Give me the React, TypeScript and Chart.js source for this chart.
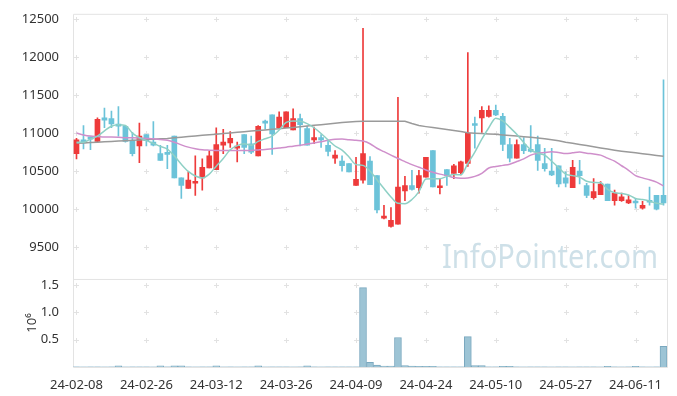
import React, { useEffect, useRef } from 'react';
import { Chart, registerables } from 'chart.js';

Chart.register(...registerables);

const dates = [
  '24-02-08','24-02-13','24-02-14','24-02-15','24-02-16','24-02-19','24-02-20','24-02-21','24-02-22','24-02-23',
  '24-02-26','24-02-27','24-02-28','24-02-29','24-03-04','24-03-05','24-03-06','24-03-07','24-03-08','24-03-11',
  '24-03-12','24-03-13','24-03-14','24-03-15','24-03-18','24-03-19','24-03-20','24-03-21','24-03-22','24-03-25',
  '24-03-26','24-03-27','24-03-28','24-03-29','24-04-01','24-04-02','24-04-03','24-04-04','24-04-05','24-04-08',
  '24-04-09','24-04-11','24-04-12','24-04-15','24-04-16','24-04-17','24-04-18','24-04-19','24-04-22','24-04-23',
  '24-04-24','24-04-25','24-04-26','24-04-29','24-04-30','24-05-02','24-05-03','24-05-07','24-05-08','24-05-09',
  '24-05-10','24-05-13','24-05-14','24-05-16','24-05-17','24-05-20','24-05-21','24-05-22','24-05-23','24-05-24',
  '24-05-27','24-05-28','24-05-29','24-05-30','24-05-31','24-06-03','24-06-04','24-06-05','24-06-07','24-06-10',
  '24-06-11','24-06-12','24-06-13','24-06-14','24-06-17',
];

const openP = [
  10730, 10910, 10950, 10890, 11200, 11190, 11120, 11090, 10900, 10830,
  10980, 10880, 10730, 10740, 10960, 10410, 10270, 10340, 10410, 10540,
  10520, 10840, 10870, 10800, 10980, 10860, 10700, 11150, 11240, 11070,
  11070, 11040, 11190, 11060, 10910, 10940, 10840, 10670, 10630, 10600,
  10310, 10380, 10630, 10440, 9880, 9770, 9800, 10240, 10310, 10280,
  10420, 10770, 10280, 10520, 10470, 10480, 10600, 11110, 11200, 11220,
  11300, 11220, 10850, 10670, 10850, 10780, 10850, 10600, 10500, 10570,
  10410, 10280, 10500, 10310, 10150, 10190, 10330, 10110, 10110, 10080,
  10090, 10010, 10100, 10180, 10180,
];
const highP = [
  10930, 11100, 10950, 11200, 11330, 11290, 11350, 11090, 11010, 11130,
  10980, 11150, 10840, 10840, 10960, 10410, 10490, 10700, 10660, 10760,
  11070, 11050, 11020, 10880, 10980, 10960, 11100, 11170, 11240, 11280,
  11280, 11320, 11250, 11090, 11080, 10980, 10890, 10770, 10700, 10600,
  10680, 12380, 10690, 10440, 10050, 10020, 11470, 10430, 10510, 10510,
  10680, 10770, 10400, 10520, 10590, 10630, 12060, 11210, 11350, 11360,
  11370, 11260, 10930, 10910, 10940, 11100, 10960, 10800, 10800, 10570,
  10490, 10640, 10640, 10340, 10400, 10360, 10330, 10250, 10210, 10180,
  10140, 10100, 10290, 10180, 11700,
];
const lowP = [
  10660, 10790, 10780, 10880, 11070, 11070, 10960, 10880, 10700, 10610,
  10830, 10830, 10640, 10530, 10410, 10140, 10270, 10180, 10250, 10540,
  10520, 10730, 10810, 10620, 10730, 10730, 10700, 11050, 10720, 11070,
  11070, 11040, 10830, 10840, 10860, 10810, 10700, 10600, 10500, 10490,
  10310, 10340, 10320, 9950, 9870, 9760, 9800, 10110, 10250, 10210,
  10420, 10290, 10200, 10310, 10400, 10450, 10560, 10800, 11010, 11210,
  11230, 10770, 10620, 10670, 10730, 10750, 10510, 10500, 10440, 10290,
  10290, 10280, 10330, 10150, 10130, 10190, 10110, 10050, 10100, 10070,
  10010, 10000, 10050, 9990, 10050,
];
const closeP = [
  10910, 10870, 10920, 11180, 11170, 11120, 11090, 10890, 10730, 10960,
  10900, 10840, 10640, 10720, 10410, 10310, 10380, 10360, 10550, 10700,
  10850, 10880, 10930, 10830, 10810, 10750, 11090, 11130, 10990, 11210,
  11280, 11190, 11110, 10840, 10940, 10910, 10760, 10710, 10570, 10490,
  10390, 10730, 10320, 9990, 9900, 9850, 10290, 10310, 10260, 10440,
  10680, 10290, 10300, 10440, 10570, 10620, 11000, 11100, 11300, 11300,
  11240, 10850, 10670, 10850, 10770, 10760, 10640, 10530, 10450, 10330,
  10340, 10550, 10440, 10180, 10230, 10330, 10110, 10210, 10160, 10120,
  10080, 10050, 10090, 10000, 10080,
];

const ma5 = [
  10880, 10880, 10920, 10960, 11030, 11090, 11110, 11100, 11000, 10940,
  10900, 10865, 10825, 10790, 10700, 10590, 10495, 10435, 10410, 10460,
  10565, 10665, 10780, 10835, 10860, 10840, 10890, 10925, 10960, 11040,
  11140, 11160, 11155, 11125, 11070, 10995, 10910, 10830, 10775, 10685,
  10585, 10575, 10500, 10385, 10270, 10160, 10075, 10070, 10125, 10230,
  10395, 10400, 10400, 10430, 10455, 10450, 10600, 10750, 10920, 11070,
  11195, 11160, 11075, 10985, 10875, 10780, 10735, 10710, 10630, 10545,
  10460, 10440, 10420, 10365, 10350, 10345, 10260, 10215, 10205, 10185,
  10140, 10125, 10105, 10075, 10065,
];
const ma20 = [
  11000, 10975, 10960, 10955, 10950, 10948, 10945, 10940, 10938, 10935,
  10930, 10925, 10915, 10905, 10880, 10845, 10815, 10795, 10780, 10775,
  10772, 10770, 10770, 10770, 10770, 10772, 10778, 10785, 10795, 10805,
  10815, 10828, 10840, 10855, 10870, 10885, 10905, 10920, 10922, 10912,
  10905, 10895, 10860, 10800, 10755, 10710, 10665, 10625, 10585, 10550,
  10515, 10485, 10460, 10440, 10415, 10405, 10410, 10430, 10470, 10540,
  10560, 10575, 10590, 10625, 10660, 10710, 10735, 10745, 10755, 10745,
  10730, 10740, 10750, 10735, 10725, 10710, 10670, 10630, 10570, 10510,
  10440, 10410, 10385, 10355, 10305,
];
const ma60 = [
  10865, 10870, 10875, 10880, 10885, 10890, 10895, 10900, 10905, 10910,
  10915, 10920, 10925, 10930, 10938, 10946, 10954, 10962, 10970, 10978,
  10986, 10994, 11002, 11010, 11018, 11026, 11034, 11042, 11050, 11058,
  11066, 11075, 11084, 11093, 11102, 11111, 11120, 11129, 11138, 11147,
  11152, 11156, 11157, 11157, 11157, 11157, 11157, 11155, 11125, 11100,
  11085, 11072, 11060, 11048, 11035, 11020, 11005, 10998, 10993, 10988,
  10983, 10976, 10968, 10960, 10952, 10944, 10936, 10925, 10912, 10898,
  10880, 10865, 10850, 10835, 10820, 10805, 10790, 10775, 10762, 10750,
  10740, 10728, 10717, 10706, 10695,
];

const volume = [
  2000, 1500, 2500, 2000, 1500, 2000, 20000, 1500, 2000, 2500,
  2000, 1500, 20000, 2000, 20000, 20000, 2000, 1500, 2000, 2000,
  20000, 1500, 2000, 1500, 2000, 2000, 20000, 1500, 2000, 2500,
  2000, 1500, 2000, 20000, 2000, 1500, 2000, 2500, 2000, 2000,
  2500, 1450000, 85000, 35000, 18000, 18000, 540000, 25000, 15000, 14000,
  14000, 14000, 2000, 2500, 2000, 2000, 555000, 28000, 28000, 2500,
  2000, 14000, 14000, 2000, 1500, 2000, 2500, 2000, 1500, 2000,
  2000, 1500, 2000, 2500, 2000, 1500, 14000, 2000, 1500, 2000,
  14000, 2000, 1500, 2500, 380000,
];

const priceTicks = [9500, 10000, 10500, 11000, 11500, 12000, 12500];
const volumeTicks = [500000, 1000000, 1500000];

const RED = '#ee3b3b';
const BLUE = '#6cc3d9';
const FONT = '"Noto Sans", sans-serif';

const decor = {
  id: 'decor',
  beforeDatasetsDraw(chart: any) {
    const { ctx, chartArea: a, scales } = chart;
    const xs = scales.x, ys = scales.y, yv = scales.yv;
    ctx.save();
    ctx.font = '33px ' + FONT;
    ctx.fillStyle = 'rgba(165,198,214,0.55)';
    ctx.textAlign = 'right';
    ctx.textBaseline = 'alphabetic';
    ctx.fillText('InfoPointer.com', a.right - 9, ys.bottom - 11, 216);
    ctx.strokeStyle = '#e2e2e2';
    ctx.lineWidth = 1;
    const xPix: number[] = [];
    dates.forEach((_, i) => { if (i % 10 === 0) xPix.push(Math.round(xs.getPixelForValue(i)) + 0.5); });
    const yPix: number[] = [];
    priceTicks.forEach((v) => yPix.push(Math.round(ys.getPixelForValue(v)) + 0.5));
    volumeTicks.forEach((v) => yPix.push(Math.round(yv.getPixelForValue(v)) + 0.5));
    ctx.beginPath();
    for (const x of xPix) {
      for (const y of yPix) {
        ctx.moveTo(x - 2.5, y); ctx.lineTo(x + 2.5, y);
        ctx.moveTo(x, y - 2.5); ctx.lineTo(x, y + 2.5);
      }
    }
    ctx.stroke();
    ctx.strokeStyle = '#e3e3e3';
    ctx.beginPath();
    ctx.moveTo(a.left + 0.5, a.top + 0.5);
    ctx.lineTo(a.right + 0.5, a.top + 0.5);
    ctx.lineTo(a.right + 0.5, a.bottom + 0.5);
    ctx.lineTo(a.left + 0.5, a.bottom + 0.5);
    ctx.closePath();
    ctx.moveTo(a.left, ys.bottom + 0.5);
    ctx.lineTo(a.right, ys.bottom + 0.5);
    ctx.stroke();
    ctx.restore();
  },
};

export default function App() {
  const ref = useRef<HTMLCanvasElement>(null);
  useEffect(() => {
    document.body.style.margin = '0';
    if (!ref.current) return;
    const colors = dates.map((_, i) => (closeP[i] >= openP[i] ? RED : BLUE));
    const tickFont = { family: FONT, size: 13 };
    const chart = new Chart(ref.current, {
      type: 'bar',
      data: {
        labels: dates,
        datasets: [
          { type: 'line', label: 'MA5', data: ma5, yAxisID: 'y', borderColor: '#8ed0c5', borderWidth: 1.5, pointRadius: 0, cubicInterpolationMode: 'monotone' } as any,
          { type: 'line', label: 'MA20', data: ma20, yAxisID: 'y', borderColor: '#cf8fcb', borderWidth: 1.5, pointRadius: 0, cubicInterpolationMode: 'monotone' } as any,
          { type: 'line', label: 'MA60', data: ma60, yAxisID: 'y', borderColor: '#9a9a9a', borderWidth: 1.5, pointRadius: 0, tension: 0 } as any,
          { type: 'bar', label: 'wick', data: dates.map((_, i) => [lowP[i], highP[i]]), yAxisID: 'y', backgroundColor: colors, barThickness: 1, grouped: false } as any,
          { type: 'bar', label: 'body', data: dates.map((_, i) => [openP[i], closeP[i]]), yAxisID: 'y', backgroundColor: colors, barThickness: 5, grouped: false, minBarLength: 2 } as any,
          { type: 'bar', label: 'volume', data: volume, yAxisID: 'yv', backgroundColor: '#9dc4d5', borderColor: '#7aa8bf', borderWidth: 1, barPercentage: 1, categoryPercentage: 1, grouped: false } as any,
        ],
      },
      options: {
        responsive: false,
        animation: false,
        events: [],
        layout: { padding: { top: 10, right: 10, left: 0, bottom: 0 } },
        plugins: { legend: { display: false }, tooltip: { enabled: false } },
        scales: {
          x: {
            type: 'category',
            offset: true,
            grid: { display: false },
            border: { display: false },
            ticks: {
              autoSkip: false, maxRotation: 0, minRotation: 0, padding: 2,
              font: tickFont, color: '#333',
              callback: (_v: any, i: number) => (i % 10 === 0 ? dates[i] : null),
            },
            afterFit: (s: any) => { s.height = 29; },
          },
          y: {
            type: 'linear', position: 'left', stack: 'main', stackWeight: 268, weight: 1,
            min: 9080, max: 12570,
            grid: { display: false }, border: { display: false },
            ticks: { padding: 6, font: tickFont, color: '#333', callback: (v: any) => String(v) },
            afterBuildTicks: (s: any) => { s.ticks = priceTicks.map((v) => ({ value: v })); },
            afterFit: (s: any) => { s.width = 73; },
          },
          yv: {
            type: 'linear', position: 'left', stack: 'main', stackWeight: 89, weight: 0,
            min: 0, max: 1610000,
            grid: { display: false }, border: { display: false },
            ticks: { padding: 6, font: tickFont, color: '#333', callback: (v: any) => (v / 1e6).toFixed(1) },
            afterBuildTicks: (s: any) => { s.ticks = volumeTicks.map((v) => ({ value: v })); },
            title: { display: true, text: '10\u2076', font: tickFont, color: '#333', padding: { top: 24, bottom: 0 } },
            afterFit: (s: any) => { s.width = 73; },
          },
        } as any,
      },
      plugins: [decor],
    });
    return () => chart.destroy();
  }, []);
  return (
    <div style={{ width: 677, height: 396 }}>
      <canvas ref={ref} width={677} height={396} style={{ display: 'block' }} />
    </div>
  );
}
